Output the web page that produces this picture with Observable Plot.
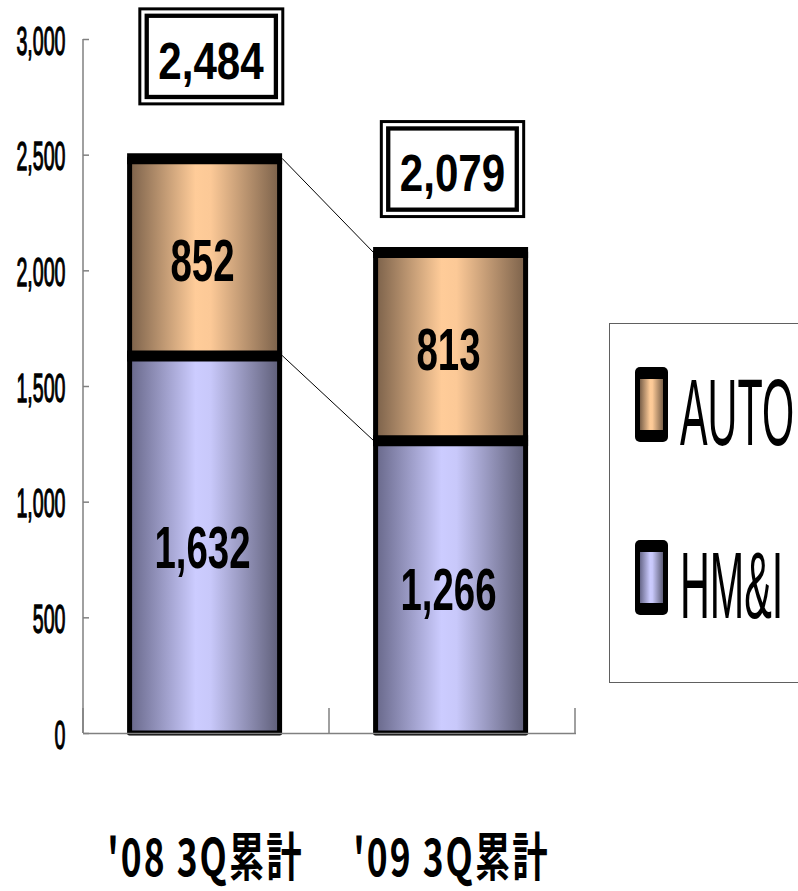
<!DOCTYPE html>
<html><head><meta charset="utf-8">
<script src="https://cdn.jsdelivr.net/npm/d3@7"></script>
<script src="https://cdn.jsdelivr.net/npm/@observablehq/plot@0.6"></script>
<style>
html,body{margin:0;padding:0;background:#fff;}
#chart{position:relative;width:798px;height:891px;overflow:hidden;}
</style></head><body><div id="chart"></div>
<script>
// ---- data ----
const periods = ["'08 3Q累計", "'09 3Q累計"];
const series = ["HM&I", "AUTO"];
const hmiValues = [1632, 1266];
const autoValues = [852, 813];
const totals = [2484, 2079];
const yTicks = [0, 500, 1000, 1500, 2000, 2500, 3000];
const legendLabels = ["AUTO", "HM&I"];

const rows = [];
periods.forEach((p, i) => {
  rows.push({period: p, series: "HM&I", value: hmiValues[i]});
  rows.push({period: p, series: "AUTO", value: autoValues[i]});
});
const totalRows = periods.map((p, i) => ({period: p, total: totals[i]}));

const fmt = d3.format(",");
const LAT = "'Liberation Sans', Arial, sans-serif";
const CJK = "'Noto Sans CJK JP', 'Noto Sans', sans-serif";
const BAR_DX = -2.4;

const chart = Plot.plot({
  width: 798, height: 891,
  marginLeft: 83, marginRight: 222, marginTop: 39, marginBottom: 158,
  style: {background: "white", color: "black", overflow: "visible"},
  x: {domain: periods, paddingInner: 0.391, paddingOuter: 0.1955, axis: null, label: null},
  y: {domain: [0, 3000], axis: null, label: null},
  color: {domain: series, range: ["url(#gradHMI)", "url(#gradAUTO)"]},
  marks: [
    Plot.barY(rows, {x: "period", y: "value", fill: "series", stroke: "black", strokeWidth: 5, strokeLinejoin: "round", dx: BAR_DX}),
    Plot.tickY(rows, Plot.stackY2({x: "period", y: "value", stroke: "black", strokeWidth: 11, insetLeft: -2.5, insetRight: -2.5, dx: BAR_DX})),
    Plot.ruleY([0], {stroke: "#808080", strokeWidth: 1.5}),
    Plot.text(rows, Plot.stackY({x: "period", y: "value", text: d => fmt(d.value), fontSize: 60, fontWeight: "bold", fontFamily: LAT, fill: "black", dx: -5, dy: 4, ariaDescription: "seg-label"})),
    Plot.text(totalRows.slice(0, 1), {x: "period", y: "total", text: d => fmt(d.total), fontSize: 52, fontWeight: "bold", fontFamily: LAT, fill: "black", dx: 3.5, dy: -97, ariaDescription: "total-label"}),
    Plot.text(totalRows.slice(1), {x: "period", y: "total", text: d => fmt(d.total), fontSize: 52, fontWeight: "bold", fontFamily: LAT, fill: "black", dx: -1, dy: -78, ariaDescription: "total-label"}),
    Plot.axisY({ticks: yTicks, tickSize: 6, dx: 6, tickFormat: () => "", stroke: "#808080", strokeWidth: 1.5, label: null}),
    Plot.axisY({ticks: yTicks, tickSize: 0, tickPadding: 18, tickFormat: d => fmt(d), fill: "black", dy: 2.5, label: null}),
    Plot.axisX({tickSize: 0, tickPadding: 126, lineAnchor: "middle", fontSize: 52, fontWeight: "bold", fontFamily: CJK, fill: "black", dx: -2, label: null})
  ]
});
document.getElementById("chart").appendChild(chart);

const svg = d3.select(chart);
const defs = svg.insert("defs", ":first-child");
function grad(id, stops) {
  const g = defs.append("linearGradient").attr("id", id)
    .attr("x1", 0).attr("x2", 1).attr("y1", 0).attr("y2", 0);
  stops.forEach(([o, c]) => g.append("stop").attr("offset", o).attr("stop-color", c));
}
grad("gradAUTO", [[0, "#7b614a"], [0.44, "#ffcc99"], [0.54, "#fcc997"], [1, "#7b614a"]]);
grad("gradHMI", [[0, "#68688a"], [0.44, "#ccccff"], [0.54, "#c8c8fa"], [1, "#5e5e78"]]);

// horizontal squeeze of text (condensed look); y offsets (em) are untouched by scaleX
function squeeze(sel, k) {
  sel.each(function () {
    let base = this.getAttribute("transform") || "";
    const x = this.getAttribute("x");
    if (x != null && !isNaN(+x)) {
      base += ` translate(${+x},0)`;
      this.removeAttribute("x");
    }
    this.setAttribute("transform", (base + ` scale(${k},1)`).trim());
  });
}
const yl = svg.selectAll('g[aria-label="y-axis tick label"] text')
  .style("font-size", "40px").style("font-family", LAT)
  .style("stroke", "black").style("stroke-width", "1.3px").style("paint-order", "stroke");
squeeze(yl, 0.49);
squeeze(svg.selectAll('g[aria-description="seg-label"] text'), 0.64);
squeeze(svg.selectAll('g[aria-description="total-label"] text'), 0.81);
const xl = svg.selectAll('g[aria-label="x-axis tick label"] text').style("letter-spacing", "3px");
squeeze(xl, 0.68);

const xs = chart.scale("x"), ys = chart.scale("y");
const over = svg.append("g");
const y0 = ys.apply(0);
// y axis line
over.append("line").attr("x1", xs.range[0]).attr("x2", xs.range[0])
  .attr("y1", ys.apply(3000)).attr("y2", y0).attr("stroke", "#808080").attr("stroke-width", 1.5);
// category boundary ticks
for (let k = 0; k <= periods.length; k++) {
  const bx = xs.range[0] + k * xs.step;
  over.append("line").attr("x1", bx).attr("x2", bx).attr("y1", y0 - 25).attr("y2", y0)
    .attr("stroke", "#808080").attr("stroke-width", 1.5);
}
// series connector lines
const xa = xs.apply(periods[0]) + xs.bandwidth + BAR_DX + 2.5;
const xb = xs.apply(periods[1]) + BAR_DX - 2.5;
[hmiValues, totals].forEach(arr => {
  over.append("line").attr("x1", xa).attr("y1", ys.apply(arr[0]))
    .attr("x2", xb).attr("y2", ys.apply(arr[1])).attr("stroke", "black").attr("stroke-width", 1);
});
// total boxes
const sr = chart.getBoundingClientRect();
svg.selectAll('g[aria-description="total-label"] text').each(function () {
  const b = this.getBoundingClientRect();
  const cx = b.left + b.width / 2 - sr.left, cy = b.top + b.height / 2 - sr.top - 4;
  const W = b.width + 40, H = 98;
  const x0 = cx - W / 2, y0b = cy - H / 2;
  over.append("rect").attr("x", x0 + 1.5).attr("y", y0b + 1.5).attr("width", W - 3).attr("height", H - 3)
    .attr("fill", "none").attr("stroke", "black").attr("stroke-width", 3);
  over.append("rect").attr("x", x0 + 8.4).attr("y", y0b + 8.4).attr("width", W - 16.8).attr("height", H - 16.8)
    .attr("fill", "none").attr("stroke", "black").attr("stroke-width", 4.3);
});
// legend
const lg = svg.append("g");
lg.append("rect").attr("x", 609.5).attr("y", 323.5).attr("width", 200).attr("height", 359)
  .attr("fill", "white").attr("stroke", "#606060").attr("stroke-width", 1);
legendLabels.forEach((lab, i) => {
  const top = 367 + i * 173;
  lg.append("rect").attr("x", 635).attr("y", top).attr("width", 33).attr("height", 75).attr("rx", 5)
    .attr("fill", "black");
  lg.append("rect").attr("x", 640).attr("y", top + 12).attr("width", 23).attr("height", 51)
    .attr("fill", lab === "AUTO" ? "url(#gradAUTO)" : "url(#gradHMI)");
  lg.append("text").attr("transform", `translate(680,${top + 78}) scale(0.435,1)`)
    .attr("text-anchor", "start")
    .attr("font-family", LAT).attr("font-size", 95).attr("fill", "black").text(lab);
});
</script>
</body></html>
